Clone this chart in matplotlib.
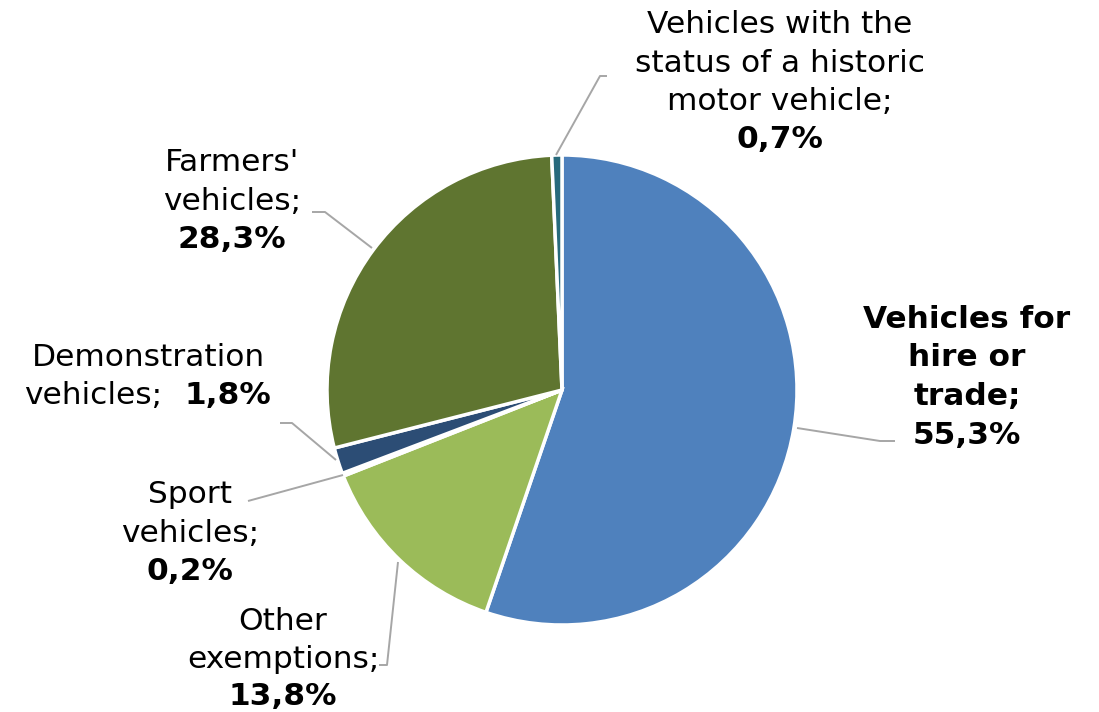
import matplotlib.pyplot as plt

# data (clockwise from 12 o'clock)
labels = ["Vehicles for\nhire or\ntrade;", "Other\nexemptions;", "Sport\nvehicles;",
          "Demonstration\nvehicles;", "Farmers'\nvehicles;",
          "Vehicles with the\nstatus of a historic\nmotor vehicle;"]
shares = [55.3, 13.8, 0.2, 1.8, 28.3, 0.7]
pct_text = ["55,3%", "13,8%", "0,2%", "1,8%", "28,3%", "0,7%"]
colors = ["#4F81BD", "#9BBB59", "#C0504D", "#2C4D75", "#5F7530", "#276A7C"]

W, H = 1099, 712
fig = plt.figure(figsize=(W / 100, H / 100), dpi=100)
ax = fig.add_axes([0, 0, 1, 1])

cx, cy, r = 562, H - 390, 235
ax.pie(shares, colors=colors, startangle=90, counterclock=False,
       center=(cx, cy), radius=r, frame=True,
       wedgeprops=dict(edgecolor='white', linewidth=2.5))
ax.set_xlim(0, W)
ax.set_ylim(0, H)
ax.set_aspect('equal')
ax.axis('off')

fs = 22.5
step = 38.5
line_col = '#A6A6A6'


def y(p):
    return H - p


def lead(pts):
    xs = [p[0] for p in pts]
    ys = [y(p[1]) for p in pts]
    ax.plot(xs, ys, color=line_col, lw=1.4, solid_capstyle='butt')


# one label block, drawn line by line from the first baseline (pixels)
def block(name, pct, x, base, bold_name=False, gap=step):
    lines = name.split('\n') + [pct]
    for i, s in enumerate(lines):
        bold = bold_name or i == len(lines) - 1
        ax.text(x, y(base + i * gap), s, ha='center', va='baseline',
                fontsize=fs, fontweight='bold' if bold else 'normal')


block(labels[0], pct_text[0], 967, 328, bold_name=True)
block(labels[1], pct_text[1], 283, 630, gap=37.5)
block(labels[2], pct_text[2], 190, 503)
block(labels[4], pct_text[4], 232, 171)
block(labels[5], pct_text[5], 780, 33)

# demonstration: second line has the bold percentage inline
ax.text(148, y(366), "Demonstration", ha='center', va='baseline', fontsize=fs)
ax.text(24, y(404), "vehicles;", ha='left', va='baseline', fontsize=fs)
ax.text(271, y(404), pct_text[3], ha='right', va='baseline', fontsize=fs,
        fontweight='bold')

# leader lines
lead([(797, 428), (880, 441), (895, 441)])
lead([(398, 562), (387, 665), (379, 665)])
lead([(343, 475), (248, 501)])
lead([(336, 460), (292, 423), (280, 423)])
lead([(372, 248), (325, 212), (312, 212)])
lead([(556, 155), (600, 76), (607, 76)])

plt.savefig('out.png', dpi=100)
plt.close()
